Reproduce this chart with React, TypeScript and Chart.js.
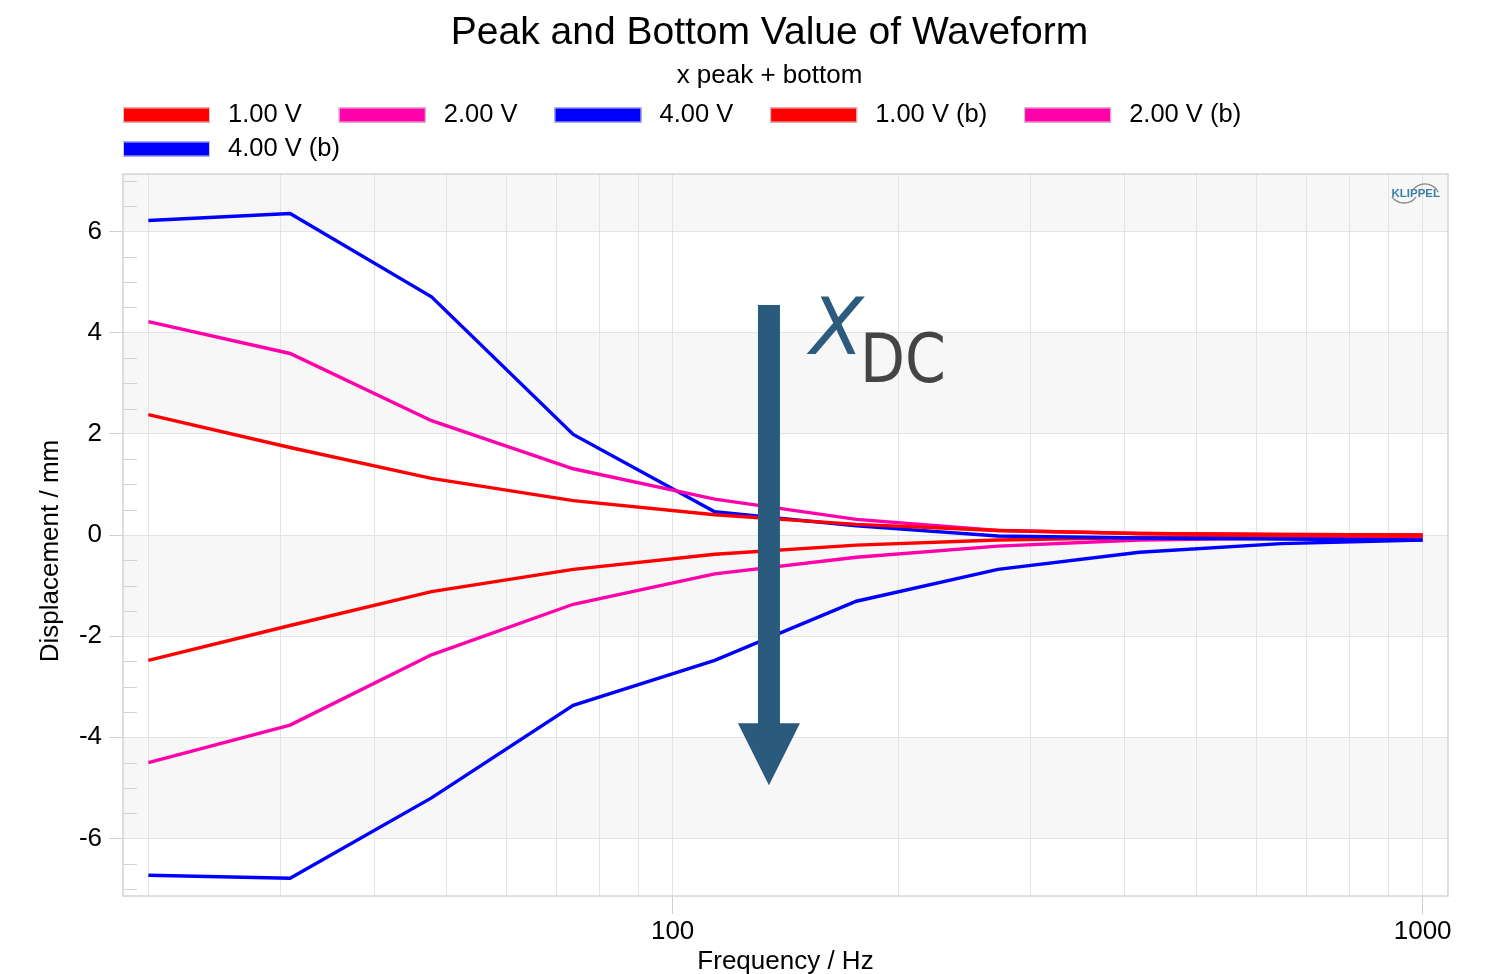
import React, { useEffect, useRef } from 'react';
import { Chart, registerables } from 'chart.js';

Chart.register(...registerables);

// ---------- data ----------
const FREQUENCIES = [20, 30.9, 47.7, 73.7, 113.8, 175.8, 271.5, 419.3, 647.6, 1000];

const PEAK_1V = [2.38, 1.73, 1.12, 0.68, 0.4, 0.21, 0.09, 0.03, 0.01, 0.0];
const PEAK_2V = [4.22, 3.59, 2.26, 1.31, 0.71, 0.31, 0.09, 0.03, 0.01, 0.0];
const PEAK_4V = [6.22, 6.36, 4.71, 1.99, 0.46, 0.18, -0.02, -0.06, -0.08, -0.1];
const BOTTOM_1V = [-2.48, -1.79, -1.12, -0.68, -0.38, -0.2, -0.1, -0.05, -0.02, -0.02];
const BOTTOM_2V = [-4.5, -3.76, -2.37, -1.37, -0.77, -0.44, -0.22, -0.1, -0.06, -0.04];
const BOTTOM_4V = [-6.73, -6.79, -5.2, -3.37, -2.48, -1.31, -0.68, -0.34, -0.17, -0.1];

const SERIES_LABELS = ['1.00 V', '2.00 V', '4.00 V', '1.00 V (b)', '2.00 V (b)', '4.00 V (b)'];
const SERIES_VALUES = [PEAK_1V, PEAK_2V, PEAK_4V, BOTTOM_1V, BOTTOM_2V, BOTTOM_4V];
const SERIES_COLORS = ['#ff0000', '#ff00aa', '#0000ff', '#ff0000', '#ff00aa', '#0000ff'];

const X_GRID_TICKS = [20, 30, 40, 50, 60, 70, 80, 90, 100, 200, 300, 400, 500, 600, 700, 800, 900, 1000];
const X_LABELED_TICKS = [100, 1000];
const Y_MAJOR_TICKS = [-6, -4, -2, 0, 2, 4, 6];
const Y_MINOR_TICKS = [-7, -6.5, -5.5, -5, -4.5, -3.5, -3, -2.5, -1.5, -1, -0.5, 0.5, 1, 1.5, 2.5, 3, 3.5, 4.5, 5, 5.5, 6.5, 7];

const X_MIN = 18.5;
const X_MAX = 1081;
const Y_MIN = -7.14;
const Y_MAX = 7.14;

const TITLE = 'Peak and Bottom Value of Waveform';
const SUBTITLE = 'x peak + bottom';
const X_TITLE = 'Frequency / Hz';
const Y_TITLE = 'Displacement / mm';

// XDC annotation arrow (data coordinates)
const ARROW_FREQ = 134;
const ARROW_TOP = 4.55;
const ARROW_TIP = -4.95;

const FONT = "'Liberation Sans', Arial, Helvetica, sans-serif";

const decorPlugin = {
  id: 'decor',
  beforeDraw(chart: any) {
    const { ctx, chartArea: a, scales } = chart;
    const y = scales.y;
    ctx.save();
    for (let lo = Math.floor(Y_MIN / 2) * 2; lo < Y_MAX; lo += 2) {
      if (Math.abs(Math.floor(lo / 2)) % 2 !== 1) continue;
      const top = y.getPixelForValue(Math.min(lo + 2, Y_MAX));
      const bottom = y.getPixelForValue(Math.max(lo, Y_MIN));
      ctx.fillStyle = '#f7f7f7';
      ctx.fillRect(a.left, top, a.right - a.left, bottom - top);
    }
    ctx.restore();
  },
  beforeDatasetsDraw(chart: any) {
    const { ctx, chartArea: a, scales } = chart;
    const y = scales.y;
    ctx.save();
    ctx.strokeStyle = '#d2d2d2';
    ctx.lineWidth = 1;
    for (const v of Y_MINOR_TICKS) {
      const py = Math.round(y.getPixelForValue(v)) + 0.5;
      ctx.beginPath();
      ctx.moveTo(a.left, py);
      ctx.lineTo(a.left + 14, py);
      ctx.stroke();
    }
    ctx.strokeStyle = '#d4d4d4';
    ctx.lineWidth = 1.5;
    ctx.strokeRect(a.left, a.top, a.right - a.left, a.bottom - a.top);
    ctx.restore();
  },
  afterDraw(chart: any) {
    const { ctx, chartArea: a, scales } = chart;
    const x = scales.x;
    const y = scales.y;
    ctx.save();

    // legend
    ctx.font = `25.5px ${FONT}`;
    ctx.textBaseline = 'middle';
    ctx.textAlign = 'left';
    let xPos = a.left;
    let row = 0;
    chart.data.datasets.forEach((ds: any) => {
      const tw = ctx.measureText(ds.label).width;
      const w = 87 + 18 + tw;
      if (xPos > a.left && xPos + w > a.right) {
        row++;
        xPos = a.left;
      }
      const cy = a.top - 59 + row * 34;
      ctx.fillStyle = ds.borderColor;
      ctx.fillRect(xPos, cy - 7.5, 87, 15);
      ctx.strokeStyle = '#d0d0d0';
      ctx.lineWidth = 1;
      ctx.strokeRect(xPos + 0.5, cy - 7, 86, 14);
      ctx.fillStyle = '#000';
      ctx.fillText(ds.label, xPos + 87 + 18, cy);
      xPos += w + 37;
    });

    // y axis title
    ctx.save();
    ctx.translate(a.left - 72, a.top + (a.bottom - a.top) / 2 + 16);
    ctx.rotate(-Math.PI / 2);
    ctx.textAlign = 'center';
    ctx.textBaseline = 'middle';
    ctx.font = `26px ${FONT}`;
    ctx.fillStyle = '#000';
    ctx.fillText(Y_TITLE, 0, 0);
    ctx.restore();

    // arrow
    const cx = x.getPixelForValue(ARROW_FREQ);
    const yTop = y.getPixelForValue(ARROW_TOP);
    const yTip = y.getPixelForValue(ARROW_TIP);
    const headH = 62;
    const headW = 62;
    const barW = 22;
    ctx.fillStyle = '#2a5a7c';
    ctx.fillRect(cx - barW / 2 + 1, yTop, barW, yTip - headH - yTop + 1);
    ctx.beginPath();
    ctx.moveTo(cx - headW / 2 + 1, yTip - headH);
    ctx.lineTo(cx + headW / 2 + 1, yTip - headH);
    ctx.lineTo(cx + 1, yTip);
    ctx.closePath();
    ctx.fill();

    // X_DC label
    ctx.textAlign = 'left';
    ctx.textBaseline = 'alphabetic';
    ctx.font = `italic 78px 'DejaVu Sans', sans-serif`;
    ctx.fillStyle = '#2d5b7e';
    ctx.fillText('X', cx + 42, yTop + 49);
    ctx.save();
    ctx.translate(cx + 92, yTop + 77);
    ctx.scale(0.86, 1);
    ctx.font = `68px 'DejaVu Sans', sans-serif`;
    ctx.fillStyle = '#444444';
    ctx.fillText('DC', 0, 0);
    ctx.restore();

    // KLIPPEL logo
    const lx = a.right - 8;
    const ly = a.top + 23;
    ctx.font = `bold 11.5px ${FONT}`;
    ctx.textAlign = 'right';
    ctx.fillStyle = '#3b7fa8';
    ctx.fillText('KLIPPEL', lx, ly);
    ctx.strokeStyle = '#8a8a8a';
    ctx.lineWidth = 1.3;
    ctx.beginPath();
    ctx.arc(lx - 15, ly + 2, 15, Math.PI * 1.15, Math.PI * 1.85);
    ctx.stroke();
    ctx.beginPath();
    ctx.arc(lx - 36, ly - 9, 15, Math.PI * 0.2, Math.PI * 0.8);
    ctx.stroke();

    ctx.restore();
  },
};

export default function App() {
  const canvasRef = useRef<HTMLCanvasElement | null>(null);

  useEffect(() => {
    if (!canvasRef.current) return;
    Chart.defaults.font.family = FONT;
    const datasets = SERIES_LABELS.map((label, i) => ({
      label,
      data: FREQUENCIES.map((f, j) => ({ x: f, y: SERIES_VALUES[i][j] })),
      borderColor: SERIES_COLORS[i],
      backgroundColor: SERIES_COLORS[i],
      borderWidth: 3.4,
      pointRadius: 0,
      tension: 0,
      fill: false,
    }));

    const chart = new Chart(canvasRef.current, {
      type: 'line',
      data: { datasets },
      plugins: [decorPlugin],
      options: {
        responsive: false,
        animation: false,
        devicePixelRatio: 1,
        layout: { padding: { left: 80, right: 37, top: 0, bottom: 0 } },
        plugins: {
          legend: { display: false },
          tooltip: { enabled: false },
          title: {
            display: true,
            text: TITLE,
            color: '#000',
            font: { family: FONT, size: 39, weight: 'normal' },
            padding: { top: 10, bottom: 3 },
          },
          subtitle: {
            display: true,
            text: SUBTITLE,
            color: '#000',
            font: { family: FONT, size: 26, weight: 'normal' },
            padding: { top: 0, bottom: 83 },
          },
        },
        scales: {
          x: {
            type: 'logarithmic',
            min: X_MIN,
            max: X_MAX,
            afterBuildTicks: (s: any) => {
              s.ticks = X_GRID_TICKS.map((v) => ({ value: v }));
            },
            afterFit: (s: any) => {
              s.height = 78;
            },
            ticks: {
              autoSkip: false,
              maxRotation: 0,
              padding: 2,
              color: '#000',
              font: { family: FONT, size: 26 },
              callback: (v: any) => (X_LABELED_TICKS.includes(Number(v)) ? String(v) : ''),
            },
            grid: {
              color: '#e3e3e3',
              tickLength: 18,
              tickColor: (c: any) =>
                c.tick && X_LABELED_TICKS.includes(c.tick.value) ? '#cfcfcf' : 'rgba(0,0,0,0)',
            },
            border: { display: false },
            title: {
              display: true,
              text: X_TITLE,
              color: '#000',
              font: { family: FONT, size: 26 },
              padding: { top: 0, bottom: -3 },
            },
          },
          y: {
            type: 'linear',
            position: 'left',
            min: Y_MIN,
            max: Y_MAX,
            afterBuildTicks: (s: any) => {
              s.ticks = Y_MAJOR_TICKS.map((v) => ({ value: v }));
            },
            afterFit: (s: any) => {
              s.width = 43;
            },
            ticks: {
              padding: 7,
              color: '#000',
              font: { family: FONT, size: 26 },
              callback: (v: any) => String(v),
            },
            grid: { color: '#e3e3e3', tickLength: 14, tickColor: '#d0d0d0' },
            border: { display: false },
          },
          yRight: {
            type: 'linear',
            position: 'right',
            min: Y_MIN,
            max: Y_MAX,
            afterFit: (s: any) => {
              s.width = 11;
            },
            ticks: { display: false },
            grid: { display: false, drawTicks: false },
            border: { display: false },
          },
        },
      } as any,
    });
    return () => chart.destroy();
  }, []);

  return (
    <div style={{ position: 'absolute', left: 0, top: 0, width: 1496, height: 974, background: '#fff' }}>
      <canvas ref={canvasRef} width={1496} height={974} style={{ display: 'block' }} />
    </div>
  );
}
